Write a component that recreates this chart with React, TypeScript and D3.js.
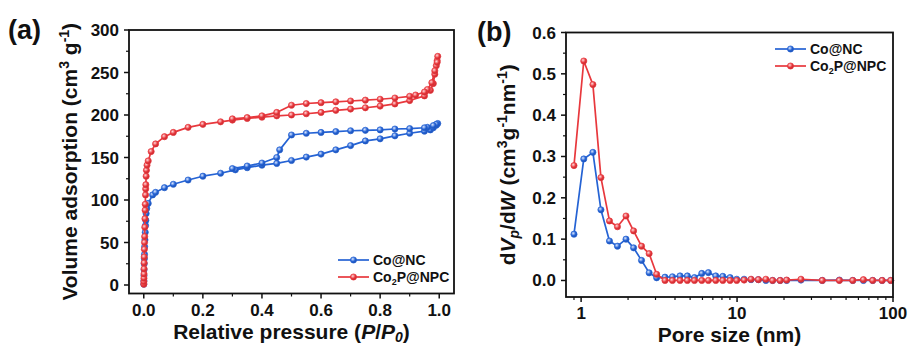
import React from 'react';
import * as d3 from 'd3';

// ---------- DATA ----------
const seriesNames = ['Co@NC', 'Co2P@NPC'];

// (a) N2 isotherms: [relative pressure, volume] in measurement order (adsorption then desorption)
const isothermCoNC: [number, number][] = [
  [0.0002, 1], [0.0005, 5], [0.0008, 11], [0.001, 18], [0.0015, 25], [0.002, 31], [0.0025, 36],
  [0.003, 45], [0.004, 53], [0.005, 62], [0.006, 70], [0.007, 76], [0.008, 84], [0.01, 90],
  [0.015, 96], [0.03, 106], [0.04, 109], [0.07, 114.5], [0.1, 118.5], [0.15, 123.5], [0.2, 128],
  [0.26, 131.5], [0.31, 135.5], [0.35, 138], [0.4, 141], [0.45, 143], [0.5, 146.5], [0.55, 150.5],
  [0.6, 154], [0.65, 159], [0.7, 164], [0.75, 169.5], [0.8, 172], [0.85, 175.5], [0.9, 178.5],
  [0.95, 181], [0.97, 182.5], [0.98, 185], [0.99, 188], [0.995, 190],
  [0.99, 189], [0.98, 187.5], [0.96, 185.5], [0.95, 185], [0.9, 184], [0.85, 183.5], [0.8, 182.5],
  [0.75, 182], [0.7, 181.5], [0.65, 180.5], [0.6, 179.5], [0.55, 178.5], [0.5, 176.5],
  [0.46, 159], [0.45, 150], [0.4, 143.5], [0.35, 140], [0.3, 137],
];

const isothermCo2PNPC: [number, number][] = [
  [0.0002, 1], [0.0004, 4], [0.0006, 8], [0.0008, 13], [0.001, 19], [0.0012, 26], [0.0015, 33],
  [0.002, 42], [0.0025, 50], [0.003, 57], [0.0035, 68], [0.004, 78], [0.0045, 88], [0.005, 95],
  [0.006, 106], [0.0065, 113], [0.007, 118], [0.008, 128], [0.009, 135], [0.011, 141],
  [0.015, 146], [0.025, 157], [0.04, 166], [0.07, 174.5], [0.1, 179.5], [0.15, 185.5], [0.2, 189],
  [0.26, 192], [0.3, 194], [0.35, 196], [0.4, 197.5], [0.45, 199], [0.5, 200], [0.55, 201.5],
  [0.6, 203], [0.65, 205.5], [0.7, 207], [0.75, 208.5], [0.8, 210.5], [0.85, 213], [0.9, 217],
  [0.95, 222.5], [0.97, 229], [0.98, 237], [0.985, 248], [0.99, 258], [0.993, 264], [0.995, 269],
  [0.993, 262], [0.985, 252], [0.975, 238], [0.96, 230], [0.95, 227], [0.92, 223.5], [0.9, 222],
  [0.85, 220], [0.8, 218.5], [0.75, 217.5], [0.7, 216.5], [0.65, 215.5], [0.6, 214.5],
  [0.55, 213.5], [0.5, 211.5], [0.45, 203], [0.4, 199], [0.35, 197], [0.3, 195.5],
];

// (b) pore size distribution
const poreSizes = [
  0.9, 1.04, 1.19, 1.34, 1.52, 1.71, 1.94, 2.17, 2.44, 2.73, 3.05, 3.45, 3.85, 4.31, 4.8, 5.33,
  5.94, 6.55, 7.3, 8.1, 9.02, 9.95, 11.1, 12.3, 13.7, 15.3, 16.9, 18.9, 20.8, 25.7, 35.2, 45.3,
  55.2, 64.6, 74.1, 85.2, 96.7,
];
const psdCoNC = [
  0.112, 0.294, 0.31, 0.171, 0.0955, 0.083, 0.1, 0.079, 0.0486, 0.0186, 0.0065, 0.008, 0.009,
  0.011, 0.011, 0.007, 0.017, 0.019, 0.011, 0.01, 0.007, 0.003, 0.003, 0.002, 0.002, 0.0, 0.0,
  0.0, 0.0, 0.001, 0.0, 0.001, 0.0, 0.0, 0.0, 0.0, 0.0,
];
const psdCo2PNPC = [
  0.278, 0.531, 0.474, 0.249, 0.144, 0.13, 0.156, 0.12, 0.083, 0.065, 0.015, 0.0, 0.0, 0.0, 0.0,
  0.0, 0.0, 0.0, 0.0, 0.0, 0.0, 0.0, 0.001, 0.003, 0.002, 0.003, 0.0, 0.0, 0.001, 0.003, 0.0,
  0.0, 0.0, 0.002, 0.0, 0.0, 0.0,
];

const xTicksA = [0, 0.2, 0.4, 0.6, 0.8, 1.0];
const xMinorA = [0.1, 0.3, 0.5, 0.7, 0.9];
const yTicksA = [0, 50, 100, 150, 200, 250, 300];
const yMinorA = [25, 75, 125, 175, 225, 275];
const xTicksB = [1, 10, 100];
const xMinorB = [0.9, 2, 3, 4, 5, 6, 7, 8, 9, 20, 30, 40, 50, 60, 70, 80, 90];
const yTicksB = [0, 0.1, 0.2, 0.3, 0.4, 0.5, 0.6];
const yMinorB = [0.05, 0.15, 0.25, 0.35, 0.45, 0.55];

// ---------- STYLE ----------
const BLUE = '#2563d4';
const RED = '#e8383d';
const FONT = "'Liberation Sans', Arial, Helvetica, sans-serif";

type Box = { l: number; r: number; t: number; b: number };
const boxA: Box = { l: 129, r: 454, t: 30, b: 293.5 };
const boxB: Box = { l: 566, r: 893, t: 32.5, b: 297 };

function Frame({ box }: { box: Box }) {
  return (
    <rect x={box.l} y={box.t} width={box.r - box.l} height={box.b - box.t}
      fill="none" stroke="#111" strokeWidth={1.8} />
  );
}

function Marker({ x, y, color, grad }: { x: number; y: number; color: string; grad: string }) {
  return <circle cx={x} cy={y} r={3.1} fill={`url(#${grad})`} stroke={color} strokeWidth={0.7} />;
}

function Series({ pts, color, grad }: { pts: [number, number][]; color: string; grad: string }) {
  const line = d3.line<[number, number]>().x(d => d[0]).y(d => d[1]);
  return (
    <g>
      <path d={line(pts) || ''} fill="none" stroke={color} strokeWidth={1.7} strokeLinejoin="round" />
      {pts.map((p, i) => <Marker key={i} x={p[0]} y={p[1]} color={color} grad={grad} />)}
    </g>
  );
}

function Legend({ x, y, gap }: { x: number; y: number; gap: number }) {
  const rows = [
    { color: BLUE, grad: 'gBlue', label: <tspan>{seriesNames[0]}</tspan> },
    {
      color: RED, grad: 'gRed',
      label: <><tspan>Co</tspan><tspan fontSize={9} dy={3}>2</tspan><tspan dy={-3}>P@NPC</tspan></>,
    },
  ];
  return (
    <g>
      {rows.map((r, i) => (
        <g key={i} transform={`translate(${x},${y + i * gap})`}>
          <line x1={0} x2={31} y1={0} y2={0} stroke={r.color} strokeWidth={1.7} />
          <Marker x={15.5} y={0} color={r.color} grad={r.grad} />
          <text x={35} y={5} fontSize={14} fontWeight="bold" fontFamily={FONT} fill="#111">{r.label}</text>
        </g>
      ))}
    </g>
  );
}

export default function App() {
  // Panel (a) scales
  const xA = d3.scaleLinear().domain([-0.05, 1.05]).range([boxA.l, boxA.r]);
  const yA = d3.scaleLinear().domain([-10, 300]).range([boxA.b, boxA.t]);
  // Panel (b) scales
  const xB = d3.scaleLog().domain([0.8, 100]).range([boxB.l, boxB.r]);
  const yB = d3.scaleLinear().domain([-0.04, 0.6]).range([boxB.b, boxB.t]);

  const ptsA1 = isothermCoNC.map(d => [xA(d[0]), yA(d[1])] as [number, number]);
  const ptsA2 = isothermCo2PNPC.map(d => [xA(d[0]), yA(d[1])] as [number, number]);
  const ptsB1 = poreSizes.map((s, i) => [xB(s), yB(psdCoNC[i])] as [number, number]);
  const ptsB2 = poreSizes.map((s, i) => [xB(s), yB(psdCo2PNPC[i])] as [number, number]);

  const tickFont = { fontSize: 17, fontWeight: 'bold' as const, fontFamily: FONT, fill: '#111' };
  const titleFont = { fontSize: 21, fontWeight: 'bold' as const, fontFamily: FONT, fill: '#111' };
  const MAJ = 5, MIN = 3;

  const xAxis = (box: Box, sc: (v: number) => number, major: number[], minor: number[], fmt: (v: number) => string) => (
    <g>
      {major.map(v => (
        <g key={'M' + v}>
          <line x1={sc(v)} x2={sc(v)} y1={box.b} y2={box.b + MAJ} stroke="#111" strokeWidth={1.5} />
          <text x={sc(v)} y={box.b + 22} textAnchor="middle" {...tickFont}>{fmt(v)}</text>
        </g>
      ))}
      {minor.map(v => (
        <line key={'m' + v} x1={sc(v)} x2={sc(v)} y1={box.b} y2={box.b + MIN} stroke="#111" strokeWidth={1.2} />
      ))}
    </g>
  );
  const yAxis = (box: Box, sc: (v: number) => number, major: number[], minor: number[], fmt: (v: number) => string) => (
    <g>
      {major.map(v => (
        <g key={'M' + v}>
          <line x1={box.l - MAJ} x2={box.l} y1={sc(v)} y2={sc(v)} stroke="#111" strokeWidth={1.5} />
          <text x={box.l - 10} y={sc(v) + 6} textAnchor="end" {...tickFont}>{fmt(v)}</text>
        </g>
      ))}
      {minor.map(v => (
        <line key={'m' + v} x1={box.l - MIN} x2={box.l} y1={sc(v)} y2={sc(v)} stroke="#111" strokeWidth={1.2} />
      ))}
    </g>
  );

  const f1 = d3.format('.1f');
  const f0 = d3.format('d');

  return (
    <svg width={909} height={347} style={{ position: 'absolute', left: 0, top: 0, background: '#fff' }}>
      <defs>
        <radialGradient id="gBlue" cx="38%" cy="35%" r="70%">
          <stop offset="0" stopColor="#dbe7ff" />
          <stop offset="0.55" stopColor={BLUE} />
          <stop offset="1" stopColor="#1a4aa8" />
        </radialGradient>
        <radialGradient id="gRed" cx="38%" cy="35%" r="70%">
          <stop offset="0" stopColor="#ffd9da" />
          <stop offset="0.55" stopColor={RED} />
          <stop offset="1" stopColor="#b82429" />
        </radialGradient>
      </defs>
      <rect width={909} height={347} fill="#fff" />

      {/* Panel (a) */}
      <text x={8} y={39} fontSize={27} fontWeight="bold" fontFamily={FONT} fill="#111">(a)</text>
      {xAxis(boxA, xA, xTicksA, xMinorA, f1)}
      {yAxis(boxA, yA, yTicksA, yMinorA, f0)}
      <Series pts={ptsA1} color={BLUE} grad="gBlue" />
      <Series pts={ptsA2} color={RED} grad="gRed" />
      <Frame box={boxA} />
      <Legend x={338} y={260} gap={17} />
      <text x={(boxA.l + boxA.r) / 2} y={339} textAnchor="middle" {...titleFont}>
        <tspan>Relative pressure (</tspan><tspan fontStyle="italic">P</tspan><tspan>/</tspan>
        <tspan fontStyle="italic">P</tspan><tspan fontStyle="italic" fontSize={14} dy={3}>0</tspan>
        <tspan dy={-3}>)</tspan>
      </text>
      <text transform={`translate(77,${(boxA.t + boxA.b) / 2}) rotate(-90)`} textAnchor="middle" {...titleFont}>
        <tspan>Volume adsorption (cm</tspan><tspan fontSize={14} dy={-8}>3</tspan>
        <tspan dy={8}> g</tspan><tspan fontSize={14} dy={-8}>-1</tspan><tspan dy={8}>)</tspan>
      </text>

      {/* Panel (b) */}
      <text x={477} y={41} fontSize={27} fontWeight="bold" fontFamily={FONT} fill="#111">(b)</text>
      {xAxis(boxB, xB, xTicksB, xMinorB, v => String(v))}
      {yAxis(boxB, yB, yTicksB, yMinorB, f1)}
      <Series pts={ptsB1} color={BLUE} grad="gBlue" />
      <Series pts={ptsB2} color={RED} grad="gRed" />
      <Frame box={boxB} />
      <Legend x={775} y={49} gap={17} />
      <text x={(boxB.l + boxB.r) / 2} y={342} textAnchor="middle" {...titleFont}>Pore size (nm)</text>
      <text transform={`translate(515,${(boxB.t + boxB.b) / 2}) rotate(-90)`} textAnchor="middle" {...titleFont}>
        <tspan>d</tspan><tspan fontStyle="italic">V</tspan>
        <tspan fontStyle="italic" fontSize={14} dy={4}>p</tspan><tspan dy={-4}>/d</tspan>
        <tspan fontStyle="italic">W</tspan><tspan> (cm</tspan>
        <tspan fontSize={14} dy={-8}>3</tspan><tspan dy={8}>g</tspan>
        <tspan fontSize={14} dy={-8}>-1</tspan><tspan dy={8}>nm</tspan>
        <tspan fontSize={14} dy={-8}>-1</tspan><tspan dy={8}>)</tspan>
      </text>
    </svg>
  );
}
